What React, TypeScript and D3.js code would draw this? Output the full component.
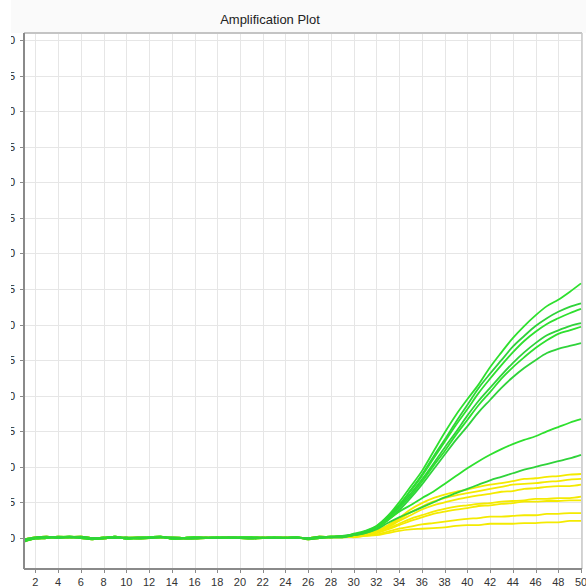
import React from 'react';
import * as d3 from 'd3';

// cycles 1..50 on the x axis, ΔRn on the y axis
const cycles = d3.range(1, 51);
const xTicks = d3.range(2, 51, 2);
const yTicks = d3.range(0, 7.01, 0.5);
const yTickLabels = yTicks.map(v => v.toFixed(1));

// baseline noise, cycles 1..29 (three variants so the bundle has some thickness)
const baseA = [-0.04, 0.0, 0.01, 0.01, 0.02, 0.01, -0.01, 0.0, 0.02, -0.01, 0.0, 0.01, 0.02, -0.01, 0.0, 0.01, 0.0, 0.01, 0.0, 0.01, 0.01, 0.0, 0.01, 0.0, 0.01, -0.01, 0.01, 0.02, 0.02];
const baseB = [-0.02, 0.01, 0.02, 0.0, 0.01, 0.02, 0.0, -0.01, 0.01, 0.0, 0.01, 0.0, 0.01, 0.0, -0.01, 0.0, 0.01, 0.0, 0.01, 0.0, 0.0, 0.01, 0.0, 0.01, 0.0, 0.0, 0.02, 0.01, 0.03];
const baseC = [-0.05, -0.01, 0.0, 0.02, 0.01, 0.0, -0.02, 0.01, 0.0, 0.01, -0.01, 0.0, 0.01, 0.01, 0.0, -0.01, 0.0, 0.0, 0.01, 0.0, -0.01, 0.0, 0.0, 0.0, 0.01, -0.02, 0.0, 0.01, 0.01];

// amplification part, cycles 30..50
const green1 = [0.06, 0.10, 0.17, 0.31, 0.50, 0.72, 0.94, 1.21, 1.48, 1.73, 1.95, 2.16, 2.40, 2.61, 2.81, 2.98, 3.13, 3.26, 3.35, 3.46, 3.58];
const green2 = [0.05, 0.09, 0.16, 0.30, 0.46, 0.67, 0.89, 1.14, 1.38, 1.63, 1.87, 2.11, 2.31, 2.50, 2.69, 2.84, 2.98, 3.09, 3.18, 3.25, 3.30];
const green3 = [0.05, 0.09, 0.16, 0.30, 0.46, 0.66, 0.87, 1.11, 1.35, 1.59, 1.81, 2.04, 2.24, 2.43, 2.61, 2.77, 2.90, 3.01, 3.09, 3.16, 3.22];
const green4 = [0.05, 0.08, 0.15, 0.28, 0.44, 0.62, 0.82, 1.04, 1.27, 1.49, 1.72, 1.93, 2.11, 2.29, 2.46, 2.61, 2.74, 2.85, 2.92, 2.98, 3.02];
const green5 = [0.04, 0.08, 0.15, 0.27, 0.42, 0.59, 0.79, 1.01, 1.22, 1.45, 1.66, 1.87, 2.05, 2.24, 2.40, 2.54, 2.67, 2.78, 2.87, 2.92, 2.97];
const green6 = [0.04, 0.08, 0.14, 0.25, 0.39, 0.56, 0.75, 0.96, 1.17, 1.38, 1.57, 1.77, 1.94, 2.11, 2.26, 2.39, 2.50, 2.60, 2.66, 2.70, 2.74];
const green7 = [0.04, 0.07, 0.13, 0.25, 0.37, 0.46, 0.56, 0.65, 0.76, 0.87, 0.98, 1.08, 1.17, 1.25, 1.32, 1.38, 1.43, 1.50, 1.56, 1.62, 1.67];
const green8 = [0.04, 0.07, 0.12, 0.21, 0.29, 0.36, 0.43, 0.50, 0.57, 0.63, 0.69, 0.75, 0.81, 0.86, 0.91, 0.96, 1.00, 1.04, 1.08, 1.12, 1.17];

const yellow1 = [0.03, 0.05, 0.10, 0.18, 0.28, 0.40, 0.49, 0.56, 0.61, 0.65, 0.68, 0.72, 0.75, 0.77, 0.80, 0.83, 0.84, 0.86, 0.87, 0.89, 0.90];
const yellow2 = [0.03, 0.05, 0.09, 0.16, 0.26, 0.36, 0.44, 0.51, 0.56, 0.60, 0.63, 0.66, 0.69, 0.72, 0.75, 0.76, 0.77, 0.79, 0.80, 0.82, 0.83];
const yellow3 = [0.02, 0.04, 0.09, 0.15, 0.24, 0.32, 0.40, 0.46, 0.50, 0.54, 0.57, 0.60, 0.62, 0.65, 0.66, 0.69, 0.70, 0.72, 0.73, 0.73, 0.75];
const yellow4 = [0.02, 0.04, 0.07, 0.13, 0.20, 0.27, 0.32, 0.37, 0.41, 0.44, 0.46, 0.48, 0.49, 0.51, 0.52, 0.53, 0.55, 0.55, 0.56, 0.56, 0.58];
const yellow5 = [0.02, 0.04, 0.07, 0.12, 0.18, 0.24, 0.29, 0.34, 0.37, 0.40, 0.42, 0.45, 0.46, 0.48, 0.49, 0.51, 0.51, 0.52, 0.52, 0.53, 0.53];
const yellow6 = [0.02, 0.03, 0.05, 0.09, 0.13, 0.16, 0.19, 0.21, 0.23, 0.25, 0.27, 0.28, 0.30, 0.30, 0.31, 0.32, 0.32, 0.34, 0.34, 0.35, 0.35];
const yellow7 = [0.01, 0.03, 0.04, 0.07, 0.10, 0.12, 0.13, 0.14, 0.15, 0.17, 0.18, 0.18, 0.20, 0.20, 0.20, 0.21, 0.21, 0.22, 0.22, 0.24, 0.24];

const yellowSeries = [
  { base: baseB, tail: yellow1 }, { base: baseC, tail: yellow2 }, { base: baseB, tail: yellow3 },
  { base: baseA, tail: yellow4 }, { base: baseC, tail: yellow5 }, { base: baseB, tail: yellow6 },
  { base: baseA, tail: yellow7 },
];
const greenSeries = [
  { base: baseA, tail: green1 }, { base: baseC, tail: green2 }, { base: baseA, tail: green3 },
  { base: baseB, tail: green4 }, { base: baseA, tail: green5 }, { base: baseC, tail: green6 },
  { base: baseA, tail: green7 }, { base: baseB, tail: green8 },
];

const W = 586, H = 587;
const plot = { left: 24, right: 582, top: 33, bottom: 569 };

export default function App() {
  const x = d3.scaleLinear().domain([1, 50]).range([plot.left, 581]);
  const y = d3.scaleLinear().domain([-0.436, 7.1]).range([plot.bottom, plot.top]);

  const line = d3.line<number>()
    .x((_, i) => x(cycles[i]))
    .y(d => y(d))
    .curve(d3.curveMonotoneX);

  const build = (s: { base: number[]; tail: number[] }) => s.base.concat(s.tail);

  return (
    <svg width={W} height={H} style={{ position: 'absolute', left: 0, top: 0, fontFamily: 'Arial, "Liberation Sans", sans-serif' }}>
      <defs>
        <clipPath id="lblclip"><rect x={11} y={0} width={W} height={H} /></clipPath>
        <clipPath id="plotclip"><rect x={plot.left} y={plot.top} width={plot.right - plot.left} height={plot.bottom - plot.top} /></clipPath>
      </defs>
      <rect x={0} y={0} width={W} height={H} fill="#fff" />
      <rect x={11} y={0} width={W - 11} height={plot.top} fill="#fafafa" />

      <text x={270} y={24} textAnchor="middle" fontSize={13} fill="#222">Amplification Plot</text>

      {/* grid */}
      <g stroke="#e6e6e6" strokeWidth={1}>
        {xTicks.map(t => (
          <line key={'gx' + t} x1={Math.round(x(t)) + 0.5} x2={Math.round(x(t)) + 0.5} y1={plot.top} y2={plot.bottom} />
        ))}
        {yTicks.map(t => (
          <line key={'gy' + t} x1={plot.left} x2={plot.right} y1={Math.round(y(t)) + 0.5} y2={Math.round(y(t)) + 0.5} />
        ))}
      </g>

      {/* frame */}
      <line x1={plot.left} x2={plot.right} y1={plot.top} y2={plot.top} stroke="#c4c4c4" strokeWidth={2} />
      <line x1={plot.right} x2={plot.right} y1={plot.top} y2={plot.bottom} stroke="#c8c8c8" strokeWidth={1.5} />

      {/* curves */}
      <g clipPath="url(#plotclip)" fill="none" strokeLinejoin="round">
        {yellowSeries.map((s, i) => (
          <path key={'y' + i} d={line(build(s)) || ''} stroke="#f4ea00" strokeWidth={1.8} />
        ))}
        {greenSeries.map((s, i) => (
          <path key={'g' + i} d={line(build(s)) || ''} stroke={i % 2 ? '#2fd33a' : '#2ee02e'} strokeWidth={1.8} />
        ))}
      </g>

      {/* axes */}
      <line x1={plot.left} x2={plot.left} y1={plot.top} y2={plot.bottom} stroke="#8a8a8a" strokeWidth={2} />
      <line x1={plot.left} x2={plot.right} y1={plot.bottom} y2={plot.bottom} stroke="#8a8a8a" strokeWidth={2} />
      <g stroke="#8a8a8a">
        {yTicks.map(t => (
          <line key={'ty' + t} x1={plot.left - 4} x2={plot.left} y1={Math.round(y(t)) + 0.5} y2={Math.round(y(t)) + 0.5} />
        ))}
        {xTicks.map(t => (
          <line key={'tx' + t} x1={Math.round(x(t)) + 0.5} x2={Math.round(x(t)) + 0.5} y1={plot.bottom} y2={plot.bottom + 4} />
        ))}
      </g>
      <g clipPath="url(#lblclip)" fontSize={11} fill="#222">
        {yTicks.map((t, i) => (
          <text key={'ly' + t} x={15} y={y(t) + 4} textAnchor="end">{yTickLabels[i]}</text>
        ))}
      </g>
      <g fontSize={11} fill="#333">
        {xTicks.map(t => (
          <text key={'lx' + t} x={x(t)} y={586} textAnchor="middle">{t}</text>
        ))}
      </g>
    </svg>
  );
}
